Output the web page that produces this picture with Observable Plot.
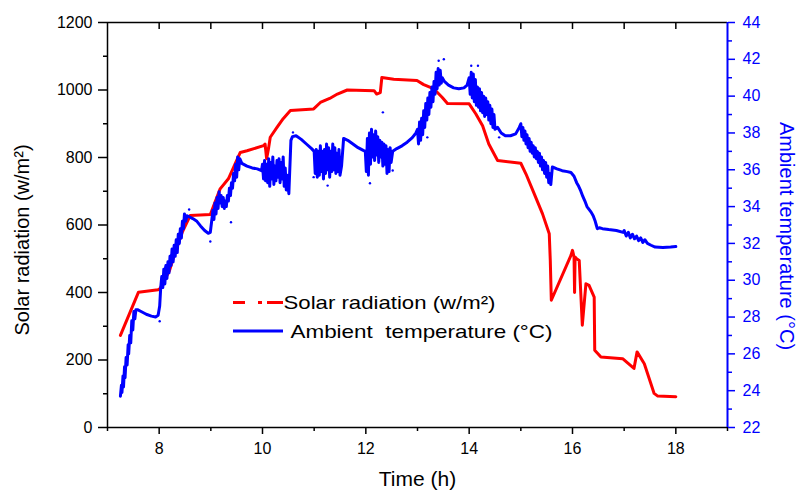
<!DOCTYPE html>
<html><head><meta charset="utf-8">
<script src="https://cdn.jsdelivr.net/npm/d3@7"></script>
<script src="https://cdn.jsdelivr.net/npm/@observablehq/plot@0.6"></script>
<style>
body{margin:0;background:#fff;}
#wrap{position:relative;width:799px;height:490px;}
svg text{font-family:"Liberation Sans",Arial,sans-serif;}
</style></head><body><div id="wrap"></div>
<script>
// Solar radiation (w/m²) vs time (h)
const radTime = [7.25,7.60,7.98,8.02,8.20,8.28,8.45,8.60,8.99,9.18,9.34,9.47,9.57,9.70,10.02,10.05,10.08,10.12,10.15,10.28,10.40,10.54,10.99,11.12,11.30,11.45,11.64,12.16,12.21,12.28,12.31,12.54,12.99,13.12,13.32,13.48,13.58,14.00,14.13,14.26,14.38,14.55,15.00,15.10,15.26,15.42,15.55,15.57,15.59,15.97,16.00,16.03,16.04,16.05,16.08,16.13,16.19,16.26,16.32,16.42,16.43,16.55,16.97,17.19,17.25,17.39,17.58,17.65,18.00];
const radValue = [273,401,408,412,465,505,580,628,631,707,737,781,815,820,835,840,796,830,860,889,915,939,944,963,975,988,1000,998,988,992,1037,1032,1028,1016,1003,978,960,959,929,894,840,791,783,751,692,633,574,495,377,510,525,505,400,505,500,495,303,426,421,386,229,209,204,175,224,189,101,93,91];

// Ambient temperature (°C) vs time (h)
const tempTime = [7.25,7.27,7.28,7.30,7.31,7.33,7.34,7.36,7.38,7.40,7.41,7.43,7.45,7.47,7.49,7.51,7.53,7.55,7.58,7.65,7.75,7.85,7.93,7.98,8.01,8.03,8.05,8.07,8.09,8.11,8.13,8.15,8.17,8.19,8.21,8.23,8.25,8.27,8.29,8.31,8.33,8.35,8.37,8.39,8.41,8.43,8.45,8.47,8.49,8.51,8.54,8.58,8.65,8.73,8.80,8.88,8.95,8.99,9.02,9.04,9.06,9.08,9.10,9.12,9.14,9.16,9.18,9.20,9.22,9.24,9.26,9.28,9.30,9.32,9.34,9.36,9.38,9.40,9.42,9.44,9.46,9.48,9.50,9.52,9.54,9.56,9.60,9.70,9.80,9.90,9.98,10.00,10.02,10.04,10.06,10.08,10.10,10.12,10.14,10.16,10.18,10.20,10.22,10.24,10.26,10.28,10.30,10.32,10.34,10.36,10.38,10.40,10.42,10.44,10.46,10.48,10.51,10.55,10.58,10.65,10.75,10.85,10.95,11.00,11.02,11.04,11.06,11.08,11.10,11.12,11.14,11.16,11.18,11.20,11.22,11.24,11.26,11.28,11.30,11.32,11.34,11.36,11.38,11.40,11.42,11.44,11.46,11.48,11.50,11.53,11.57,11.65,11.75,11.85,11.95,11.99,12.01,12.03,12.05,12.07,12.09,12.11,12.13,12.15,12.17,12.19,12.21,12.23,12.25,12.27,12.29,12.31,12.33,12.35,12.37,12.39,12.41,12.43,12.45,12.47,12.49,12.52,12.60,12.70,12.80,12.90,12.97,13.00,13.02,13.04,13.06,13.08,13.10,13.12,13.14,13.16,13.18,13.20,13.22,13.24,13.26,13.28,13.30,13.32,13.34,13.36,13.38,13.40,13.42,13.44,13.46,13.48,13.52,13.60,13.70,13.80,13.90,13.96,14.00,14.02,14.04,14.06,14.08,14.10,14.12,14.14,14.16,14.18,14.20,14.22,14.24,14.26,14.28,14.30,14.32,14.34,14.36,14.38,14.40,14.42,14.44,14.46,14.48,14.50,14.55,14.62,14.70,14.80,14.90,14.97,15.00,15.02,15.04,15.06,15.08,15.10,15.12,15.14,15.16,15.18,15.20,15.22,15.24,15.26,15.28,15.30,15.32,15.34,15.36,15.38,15.40,15.42,15.44,15.46,15.48,15.50,15.52,15.54,15.56,15.58,15.61,15.70,15.80,15.90,15.97,16.03,16.08,16.12,16.16,16.20,16.24,16.28,16.32,16.36,16.40,16.44,16.46,16.48,16.52,16.58,16.70,16.85,16.98,17.00,17.04,17.08,17.12,17.16,17.20,17.24,17.28,17.32,17.36,17.40,17.45,17.52,17.60,17.75,17.90,18.00];
const tempValue = [23.7,24.3,23.9,24.8,24.2,25.3,24.7,25.8,25.4,26.5,26.0,27.0,26.6,27.8,27.3,28.3,27.9,28.4,28.4,28.3,28.15,28.05,28.0,28.1,28.6,29.6,30.2,29.6,30.6,29.8,30.8,30.1,31.0,30.4,31.3,30.8,31.7,31.0,31.9,31.3,32.2,31.5,32.5,32.0,32.8,32.3,33.2,32.8,33.6,33.2,33.5,33.45,33.35,33.2,32.95,32.7,32.55,32.6,33.3,33.8,33.3,34.2,33.6,34.5,33.9,34.8,34.2,34.6,34.0,34.5,33.9,34.3,34.0,34.6,34.3,35.0,34.6,35.3,35.0,35.8,35.4,36.3,35.6,36.7,36.0,36.6,36.35,36.2,36.1,36.05,35.95,36.3,35.5,36.5,35.4,36.3,35.3,36.6,35.1,36.4,35.5,36.7,35.2,36.2,35.4,36.5,35.6,36.6,35.3,36.4,35.5,36.7,35.1,36.1,34.9,35.7,34.7,37.6,37.8,37.85,37.65,37.4,37.15,37.0,35.8,37.1,35.6,37.0,35.7,37.3,35.9,37.0,35.5,37.1,35.8,37.4,36.0,37.2,35.6,37.0,35.9,37.4,36.0,37.2,35.8,36.9,35.9,37.1,35.7,36.2,37.7,37.6,37.4,37.2,37.05,37.0,35.9,37.7,35.7,38.0,36.3,38.2,36.7,37.9,36.5,38.1,36.8,37.8,36.4,37.6,36.7,37.5,36.2,37.4,36.3,37.3,35.8,37.1,35.9,37.2,36.4,37.0,37.15,37.3,37.5,37.75,38.0,38.2,37.4,38.6,37.6,38.8,37.9,39.2,38.3,39.6,38.7,39.9,39.0,40.2,39.4,40.5,39.7,40.8,40.1,41.3,40.4,41.5,40.6,41.4,40.7,41.0,40.8,40.6,40.45,40.4,40.45,40.6,41.0,40.1,41.3,39.9,41.2,39.7,40.9,39.5,40.5,39.4,40.4,39.2,40.2,39.1,40.0,38.9,39.9,39.0,39.7,38.7,39.5,38.5,39.3,38.3,39.0,38.2,38.3,38.0,37.85,37.85,37.95,38.3,38.5,37.8,38.3,37.6,38.1,37.4,37.9,37.2,37.7,37.0,37.5,36.9,37.3,36.7,37.2,36.6,37.0,36.4,36.9,36.2,36.7,36.0,36.5,35.8,36.4,35.6,36.2,35.3,35.8,35.2,36.15,36.05,35.95,35.9,35.85,35.65,35.3,35.1,34.85,34.55,34.3,34.0,33.85,33.7,33.5,33.2,33.0,32.8,32.85,32.8,32.75,32.7,32.6,32.7,32.4,32.6,32.3,32.5,32.25,32.4,32.15,32.3,32.05,32.2,32.0,31.9,31.8,31.78,31.8,31.83];

// stray temperature samples (scattered dots)
const strayTime = [8.01,8.12,8.58,8.99,9.39,10.59,11.26,10.99,12.08,12.33,12.52,13.19,13.41,13.51,14.04,14.17,14.58,15.58];
const strayValue = [27.77,30.7,33.84,32.1,33.15,38.03,35.14,35.6,35.27,39.12,35.96,37.76,41.92,42.0,41.65,41.65,37.76,35.3];

const xMajorTicks = [8,10,12,14,16,18];
const xMinorTicks = [7,9,11,13,15,17,19];
const xTopTicks = [8,9,10,11,12,13,14,15,16,17,18];
const radMajorTicks = [0,200,400,600,800,1000,1200];
const radMinorTicks = [100,300,500,700,900,1100];
const tempMajorTicks = [22,24,26,28,30,32,34,36,38,40,42,44];
const tempMinorTicks = [23,25,27,29,31,33,35,37,39,41,43];
const xDomain = [7,19];
const radDomain = [0,1200];
const tempDomain = [22,44];

const toRad = T => (T - tempDomain[0]) / (tempDomain[1] - tempDomain[0]) * (radDomain[1] - radDomain[0]) + radDomain[0];
const fromRad = r => Math.round((r - radDomain[0]) / (radDomain[1] - radDomain[0]) * (tempDomain[1] - tempDomain[0]) + tempDomain[0]);

const radData = radTime.map((t, i) => ({t, v: radValue[i]}));
const tempData = tempTime.map((t, i) => ({t, v: tempValue[i]}));
const strayData = strayTime.map((t, i) => ({t, v: strayValue[i]}));

const RED = "#ff0000", BLUE = "#0000ff";
const W = 799, H = 490, mL = 107, mR = 72, mT = 22, mB = 63;
const frameH = H - mT - mB;

const chart = Plot.plot({
  width: W, height: H,
  marginLeft: mL, marginRight: mR, marginTop: mT, marginBottom: mB,
  x: {domain: xDomain},
  y: {domain: radDomain},
  style: {fontFamily: "Liberation Sans, Arial, sans-serif", background: "#fff", color: "#000"},
  marks: [
    // frame lines
    Plot.ruleY([radDomain[1]], {stroke: "#000", strokeWidth: 1.5}),
    Plot.ruleY([radDomain[0]], {stroke: "#000", strokeWidth: 1.5}),
    Plot.ruleX([xDomain[0]], {stroke: "#000", strokeWidth: 1.5}),
    Plot.ruleX([xDomain[1]], {stroke: BLUE, strokeWidth: 2}),
    // bottom axis
    Plot.axisX({anchor: "bottom", ticks: xMajorTicks, tickSize: 7, tickPadding: 8, fontSize: 16, label: null, strokeWidth: 1.5}),
    Plot.axisX({anchor: "bottom", ticks: xMinorTicks, tickSize: 4, tickFormat: () => "", label: null, strokeWidth: 1.5}),
    // top ticks (inward)
    Plot.tickX(xTopTicks, {x: d => d, insetBottom: frameH - 7, stroke: "#000", strokeWidth: 1.5}),
    // left axis
    Plot.axisY({anchor: "left", ticks: radMajorTicks, tickFormat: d => String(d), tickSize: 9, tickPadding: 6, fontSize: 16, label: null, strokeWidth: 1.5}),
    Plot.axisY({anchor: "left", ticks: radMinorTicks, tickSize: 4, tickFormat: () => "", label: null, strokeWidth: 1.5}),
    // right axis (temperature)
    Plot.axisY({anchor: "right", ticks: tempMajorTicks.map(toRad), tickFormat: r => String(fromRad(r)), tickSize: 7, tickPadding: 8, fontSize: 16, label: null, color: BLUE, strokeWidth: 1.5}),
    Plot.axisY({anchor: "right", ticks: tempMinorTicks.map(toRad), tickFormat: () => "", tickSize: 4, label: null, color: BLUE, strokeWidth: 1.5}),
    // data
    Plot.line(radData, {x: "t", y: "v", stroke: RED, strokeWidth: 3, strokeLinejoin: "round"}),
    Plot.line(tempData, {x: "t", y: d => toRad(d.v), stroke: BLUE, strokeWidth: 3, strokeLinejoin: "round"}),
    Plot.dot(strayData, {x: "t", y: d => toRad(d.v), r: 1.2, fill: BLUE}),
    // axis titles
    Plot.text(["Time (h)"], {frameAnchor: "bottom", dy: 52, fontSize: 21, fill: "#000", textAnchor: "middle", lineAnchor: "middle"}),
    Plot.text(["Solar radiation (w/m²)"], {frameAnchor: "left", dx: -85, dy: 15, rotate: -90, fontSize: 20, fill: "#000", textAnchor: "middle", lineAnchor: "middle"}),
    Plot.text(["Ambient temperature (°C)"], {frameAnchor: "right", dx: 59, dy: 11, rotate: 90, fontSize: 20, fill: BLUE, textAnchor: "middle", lineAnchor: "middle"})
  ]
});

// legend
const svg = d3.select(chart);
const lg = svg.append("g").attr("class", "legend").attr("text-anchor", "start");
lg.append("line").attr("x1", 233).attr("x2", 283).attr("y1", 302.5).attr("y2", 302.5)
  .attr("stroke", RED).attr("stroke-width", 3).attr("stroke-dasharray", "12,13,4,5,16");
lg.append("text").attr("x", 283.5).attr("y", 309).attr("font-size", 19).attr("fill", "#000")
  .attr("textLength", 212).attr("lengthAdjust", "spacingAndGlyphs")
  .text("Solar radiation (w/m²)");
lg.append("line").attr("x1", 233).attr("x2", 283).attr("y1", 331).attr("y2", 331)
  .attr("stroke", BLUE).attr("stroke-width", 3);
lg.append("text").attr("x", 290.5).attr("y", 337.5).attr("font-size", 19).attr("fill", "#000")
  .attr("xml:space", "preserve").style("white-space", "pre")
  .attr("textLength", 262).attr("lengthAdjust", "spacingAndGlyphs")
  .text("Ambient  temperature (°C)");

document.getElementById("wrap").appendChild(chart);
</script>
</body></html>
